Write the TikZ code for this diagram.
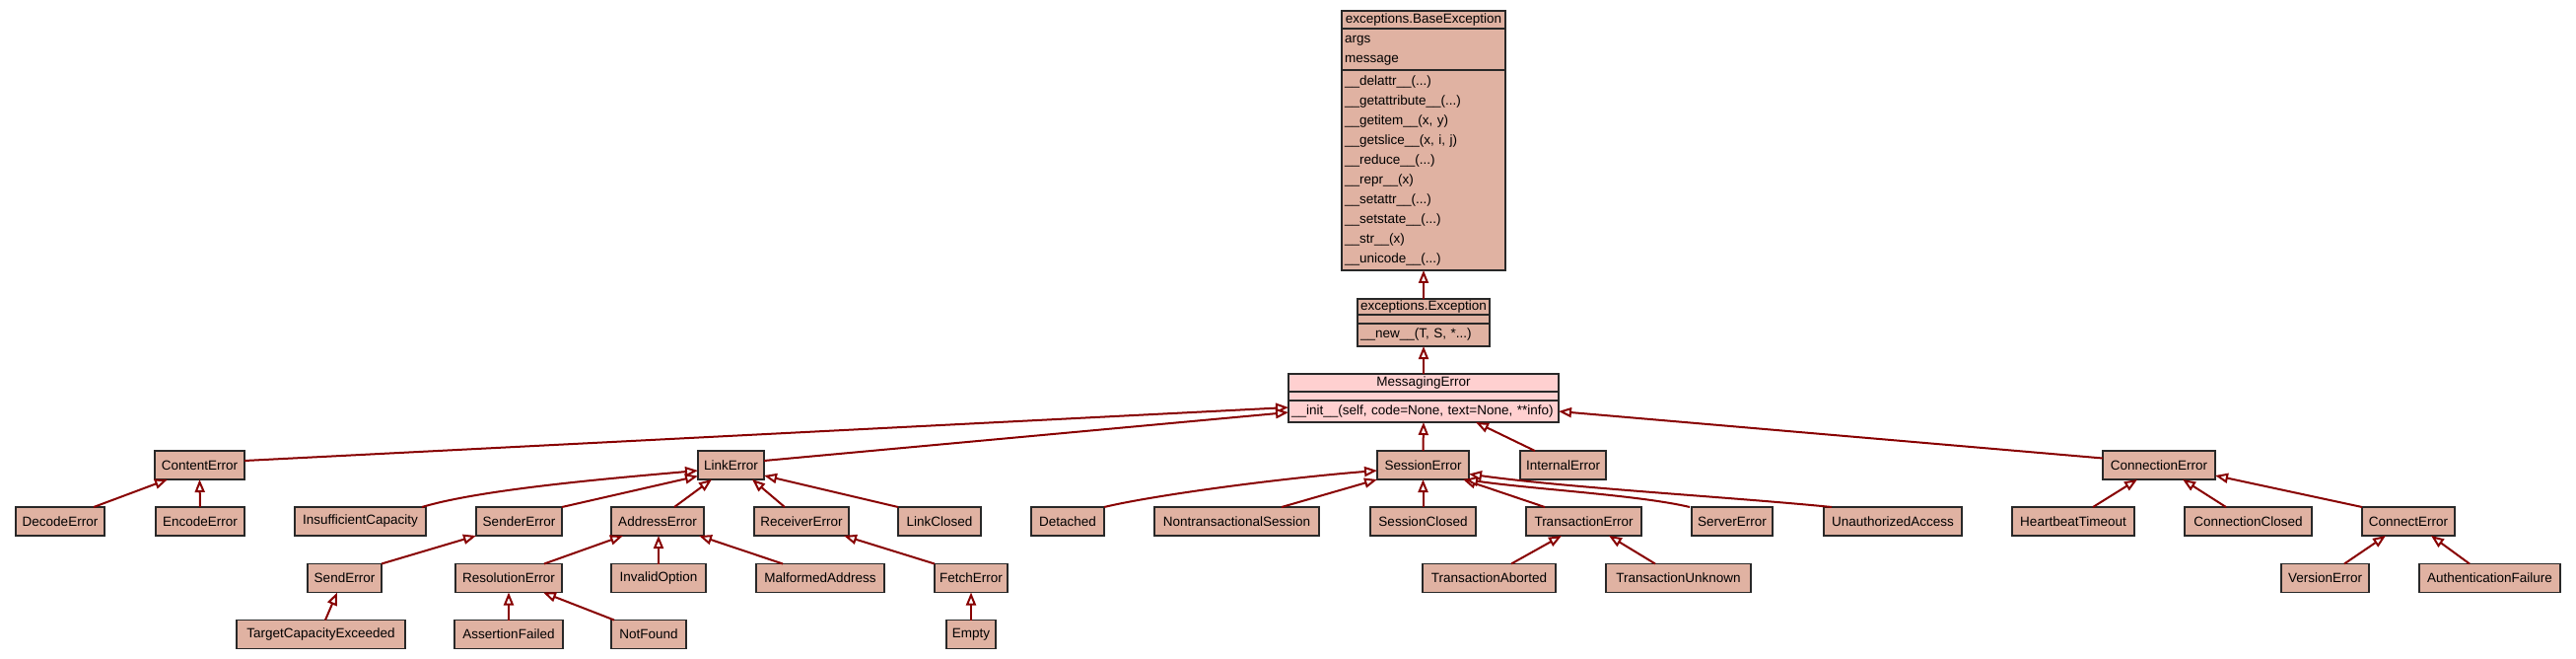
\documentclass[tikz,border=0pt]{standalone}
\usepackage{fontspec}
\setmainfont{Liberation Sans}
\usepackage{tikz}
\usetikzlibrary{arrows.meta, positioning}
\definecolor{clsfill}{RGB}{224,178,162}
\definecolor{msgfill}{RGB}{255,208,208}
\definecolor{edgecol}{RGB}{136,0,0}
\definecolor{boxline}{RGB}{40,40,40}

\begin{document}
\begin{tikzpicture}[x=1pt, y=-1pt,
    cmp/.style={draw=boxline, fill=clsfill, line width=1.3pt, outer sep=0pt, inner xsep=3pt, inner ysep=1pt, font=\fontsize{13.5}{20}\selectfont},
    cls/.style={cmp, minimum height=29pt},
    inh/.style={draw=edgecol, line width=2pt, -{Triangle[fill=white, length=13pt, width=10pt]}}]
    \useasboundingbox (0,0) rectangle (2613,668);

    % 基类
    \node[cmp, minimum width=166pt, minimum height=18pt] (base) at (1444, 20) {exceptions.BaseException};
    \node[cmp, text width=160pt, align=left, minimum height=42pt, below=0pt of base] (baseAttr) {\strut args\\message\strut};
    \node[cmp, text width=160pt, align=left, minimum height=203pt, below=0pt of baseAttr] (baseOps) {\strut\_\_delattr\_\_(...)\\\_\_getattribute\_\_(...)\\\_\_getitem\_\_(x, y)\\\_\_getslice\_\_(x, i, j)\\\_\_reduce\_\_(...)\\\_\_repr\_\_(x)\\\_\_setattr\_\_(...)\\\_\_setstate\_\_(...)\\\_\_str\_\_(x)\\\_\_unicode\_\_(...)\strut};

    \node[cmp, minimum width=134pt, minimum height=16pt] (exc) at (1444, 311) {exceptions.Exception};
    \node[cmp, minimum width=134pt, minimum height=9pt, below=0pt of exc] (excAttr) {};
    \node[cmp, text width=128pt, align=left, minimum height=23pt, below=0pt of excAttr] (excOps) {\_\_new\_\_(T, S, *...)};

    \node[cmp, fill=msgfill, minimum width=274pt, minimum height=18pt] (msg) at (1444, 388) {MessagingError};
    \node[cmp, fill=msgfill, minimum width=274pt, minimum height=9pt, below=0pt of msg] (msgAttr) {};
    \node[cmp, fill=msgfill, text width=268pt, align=left, minimum height=22pt, below=0pt of msgAttr] (msgOps) {\_\_init\_\_(self, code=None, text=None, **info)};

    % 第一层
    \foreach \n/\x/\w/\t in {content/202.5/91/ContentError, link/741.5/67/LinkError,
        session/1443.5/93/SessionError, internal/1585.5/87/InternalError,
        connection/2190/114/ConnectionError} {
        \node[cls, minimum width=\w pt] (\n) at (\x, 471.5) {\t};
    }

    % 第二层
    \foreach \n/\x/\w/\t in {decode/61/90/DecodeError, encode/203/90/EncodeError,
        insufficient/365.5/133/InsufficientCapacity, sender/526.5/87/SenderError,
        address/667/94/AddressError, receiver/813/96/ReceiverError,
        linkclosed/953/84/LinkClosed, detached/1083/74/Detached,
        nontrans/1254.5/167/NontransactionalSession, sessclosed/1443.5/107/SessionClosed,
        transaction/1606.5/117/TransactionError, server/1757/82/ServerError,
        unauth/1920/140/UnauthorizedAccess, heartbeat/2103/124/HeartbeatTimeout,
        connclosed/2280.5/129/ConnectionClosed, connect/2443/94/ConnectError} {
        \node[cls, minimum width=\w pt] (\n) at (\x, 528.5) {\t};
    }

    % 第三层
    \foreach \n/\x/\w/\t in {send/349.5/75/SendError, resolution/516/108/ResolutionError,
        invalid/668/96/InvalidOption, malformed/832/130/MalformedAddress,
        fetch/985/74/FetchError, tabort/1510.5/135/TransactionAborted,
        tunknown/1702.5/147/TransactionUnknown, version/2358.5/89/VersionError,
        authfail/2525.5/143/AuthenticationFailure} {
        \node[cls, minimum width=\w pt] (\n) at (\x, 586) {\t};
    }

    % 第四层
    \foreach \n/\x/\w/\t in {target/325.5/171/TargetCapacityExceeded,
        assertion/516/110/AssertionFailed, notfound/658/76/NotFound, empty/985/50/Empty} {
        \node[cls, minimum width=\w pt] (\n) at (\x, 643) {\t};
    }

    % 继承关系
    \draw[inh] (exc.north) -- (baseOps.south);
    \draw[inh] (msg.north) -- (excOps.south);
    \draw[inh] ([yshift=4.5pt]content.east) -- ([yshift=4pt]msgOps.west);
    \draw[inh] ([yshift=4.5pt]link.east) -- ([yshift=-1pt]msgOps.west);
    \draw[inh] (session.north) -- (msgOps.south);
    \draw[inh] ([xshift=-28.5pt]internal.north) -- ([xshift=53pt]msgOps.south);
    \draw[inh] ([yshift=7pt]connection.west) -- (msgOps.east);

    \draw[inh] ([xshift=34pt]decode.north) -- ([xshift=-32.5pt]content.south);
    \draw[inh] (encode.north) -- (content.south);

    \draw[inh] ([xshift=62.5pt]insufficient.north) .. controls +(60,-18) and +(-90,8) .. ([yshift=-5.5pt]link.west);
    \draw[inh] (sender.north east) -- ([yshift=-11pt]link.west);
    \draw[inh] ([xshift=17pt]address.north) -- ([xshift=-19.5pt]link.south);
    \draw[inh] ([xshift=-17pt]receiver.north) -- ([xshift=21.5pt]link.south);
    \draw[inh] (linkclosed.north west) -- ([yshift=-10.5pt]link.east);
    \draw[inh] (send.north east) -- (sender.south west);
    \draw[inh] ([xshift=36pt]resolution.north) -- ([xshift=-35pt]address.south);
    \draw[inh] (invalid.north) -- (invalid.north |- address.south);
    \draw[inh] ([xshift=-38pt]malformed.north) -- ([xshift=42pt]address.south);
    \draw[inh] (fetch.north west) -- ([xshift=43pt]receiver.south);
    \draw[inh] (empty.north) -- (fetch.south);
    \draw[inh] ([xshift=4.5pt]target.north) -- ([xshift=-7.5pt]send.south);
    \draw[inh] (assertion.north) -- (resolution.south);
    \draw[inh] ([xshift=-35pt]notfound.north) -- ([xshift=35pt]resolution.south);

    \draw[inh] (detached.north east) .. controls +(50,-12) and +(-100,8) .. ([yshift=-5.5pt]session.west);
    \draw[inh] ([xshift=45.5pt]nontrans.north) -- (session.south west);
    \draw[inh] (sessclosed.north) -- (session.south);
    \draw[inh] ([xshift=-39.5pt]transaction.north) -- ([xshift=40.5pt]session.south);
    \draw[inh] ([xshift=-43pt]server.north) .. controls +(-50,-12) and +(70,10) .. ([xshift=-4pt]session.south east);
    \draw[inh] ([xshift=8pt]unauth.north west) .. controls +(-100,-10) and +(100,14) .. ([yshift=-9pt]session.east);
    \draw[inh] ([xshift=22.5pt]tabort.north) -- ([xshift=-22.5pt]transaction.south);
    \draw[inh] ([xshift=-23.5pt]tunknown.north) -- ([xshift=25.5pt]transaction.south);

    \draw[inh] ([xshift=20pt]heartbeat.north) -- ([xshift=-22pt]connection.south);
    \draw[inh] ([xshift=-22.5pt]connclosed.north) -- ([xshift=24pt]connection.south);
    \draw[inh] (connect.north west) -- ([yshift=-10.5pt]connection.east);
    \draw[inh] ([xshift=19.5pt]version.north) -- ([xshift=-23pt]connect.south);
    \draw[inh] ([xshift=-20.5pt]authfail.north) -- ([xshift=23pt]connect.south);
\end{tikzpicture}
\end{document}
